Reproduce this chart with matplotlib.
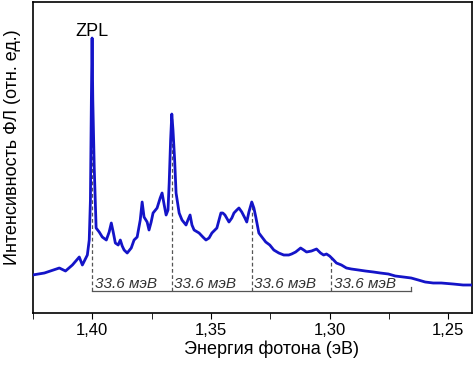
import numpy as np
import matplotlib.pyplot as plt
from matplotlib.ticker import MultipleLocator, FuncFormatter

plt.rcParams['font.family'] = ['Liberation Sans', 'DejaVu Sans']

# PL spectrum (energy in eV, intensity in arb. units)
energy = [1.4252, 1.4202, 1.4139, 1.4113, 1.4084, 1.4055, 1.4042, 1.4021, 1.4013, 1.4008,
          1.4004, 1.4001, 1.3998, 1.3992, 1.3984, 1.3971, 1.3958, 1.3941, 1.3929, 1.3920,
          1.3912, 1.3903, 1.3891, 1.3882, 1.3874, 1.3866, 1.3853, 1.3836, 1.3824, 1.3811,
          1.3798, 1.3790, 1.3782, 1.3769, 1.3761, 1.3752, 1.3744, 1.3727, 1.3714, 1.3706,
          1.3697, 1.3689, 1.3681, 1.3676, 1.3670, 1.3665, 1.3660, 1.3653, 1.3647, 1.3634,
          1.3622, 1.3605, 1.3597, 1.3588, 1.3580, 1.3571, 1.3550, 1.3534, 1.3521, 1.3508,
          1.3496, 1.3475, 1.3466, 1.3458, 1.3450, 1.3441, 1.3424, 1.3412, 1.3403, 1.3391,
          1.3382, 1.3370, 1.3357, 1.3349, 1.3340, 1.3328, 1.3319, 1.3311, 1.3298, 1.3282,
          1.3269, 1.3252, 1.3235, 1.3214, 1.3193, 1.3172, 1.3160, 1.3143, 1.3122, 1.3109,
          1.3097, 1.3076, 1.3055, 1.3038, 1.3025, 1.3013, 1.3000, 1.2987, 1.2971, 1.2950,
          1.2929, 1.2908, 1.2878, 1.2849, 1.2815, 1.2786, 1.2752, 1.2723, 1.2689, 1.2656,
          1.2626, 1.2597, 1.2563, 1.2529, 1.2479, 1.2437, 1.2403]
intensity = [38, 40, 45, 42, 48, 56, 48, 58, 73, 113,
             213, 275, 213, 146, 85, 81, 76, 73, 81, 90,
             81, 70, 68, 73, 67, 63, 60, 65, 73, 76,
             93, 111, 96, 91, 83, 91, 100, 105, 115, 120,
             108, 98, 103, 130, 173, 199, 183, 153, 120, 100,
             93, 88, 93, 98, 88, 83, 80, 76, 73, 75,
             80, 85, 93, 100, 100, 98, 91, 95, 100, 103,
             105, 101, 95, 91, 101, 111, 105, 96, 80, 75,
             71, 68, 63, 60, 58, 58, 59, 61, 65, 63,
             61, 62, 64, 60, 58, 59, 57, 54, 50, 48,
             45, 44, 43, 42, 41, 40, 39, 37, 36, 35,
             33, 31, 30, 30, 29, 28, 28]

# phonon replicas, 33.6 meV apart
zpl = 1.400
step = 0.0336
replicas = [zpl - i * step for i in range(5)]
step_label = '33.6 мэВ'
bracket_y = 22

fig = plt.figure(figsize=(4.75, 3.66), dpi=100)
ax = fig.add_axes([0.0695, 0.1448, 0.924, 0.8497])

ax.plot(energy, intensity, color='#1414c8', lw=2.0, zorder=3)

# bracket with dashed markers
ax.plot([replicas[0], replicas[-1]], [bracket_y, bracket_y], color='#555555', lw=0.9)
for i, e in enumerate(replicas):
    if i < 4:
        top = np.interp(e, energy[::-1], intensity[::-1])
        ax.plot([e, e], [bracket_y, top], color='#555555', lw=0.9, ls=(0, (3, 2)), zorder=2)
        ax.text(e - 0.0010, bracket_y + 0.5, step_label, fontsize=11, style='italic',
                color='#333333', ha='left', va='bottom')
    else:
        ax.plot([e, e], [bracket_y, bracket_y + 4], color='#555555', lw=0.9)

ax.text(zpl, 282, 'ZPL', fontsize=13, ha='center', va='center')

ax.set_xlim(1.425, 1.240)
ax.set_ylim(0, 311)
ax.xaxis.set_major_locator(MultipleLocator(0.05))
ax.xaxis.set_minor_locator(MultipleLocator(0.025))
ax.xaxis.set_major_formatter(FuncFormatter(lambda v, p: ('%.2f' % v).replace('.', ',')))
ax.tick_params(axis='x', which='both', direction='out', length=4, labelsize=12)
ax.set_yticks([])
ax.set_xlabel('Энергия фотона (эВ)', fontsize=13)
ax.set_ylabel('Интенсивность ФЛ (отн. ед.)', fontsize=13)
ax.xaxis.set_label_coords(0.543, -0.087)
ax.yaxis.set_label_coords(-0.027, 0.532)
for s in ax.spines.values():
    s.set_linewidth(1.2)

fig.savefig('out.png', dpi=100)
